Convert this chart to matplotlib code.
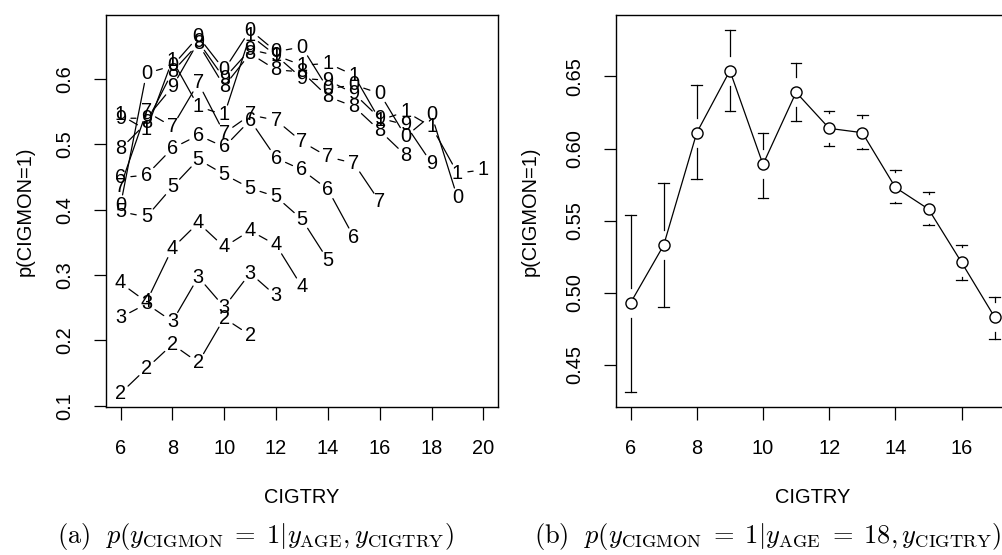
import matplotlib
matplotlib.use("Agg")
import matplotlib.pyplot as plt

plt.rcParams['font.family'] = ['Liberation Sans', 'DejaVu Sans']
plt.rcParams['mathtext.fontset'] = 'cm'

# --- data: left panel, p(CIGMON=1) per AGE, x = CIGTRY from 6 upward ---
cigtry_start = 6
age_labels = ["2", "3", "4", "5", "6", "7", "8", "9", "0", "1"]
p_age12 = [0.119, 0.157, 0.194, 0.166, 0.234, 0.208]
p_age13 = [0.235, 0.256, 0.229, 0.297, 0.251, 0.303, 0.268]
p_age14 = [0.288, 0.259, 0.341, 0.380, 0.343, 0.368, 0.346, 0.282]
p_age15 = [0.397, 0.389, 0.435, 0.477, 0.454, 0.433, 0.420, 0.385, 0.323]
p_age16 = [0.449, 0.453, 0.494, 0.514, 0.496, 0.537, 0.479, 0.461, 0.431, 0.358]
p_age17 = [0.436, 0.550, 0.527, 0.594, 0.517, 0.545, 0.537, 0.504, 0.481, 0.471, 0.412]
p_age18 = [0.493, 0.533, 0.611, 0.654, 0.589, 0.639, 0.614, 0.611, 0.573, 0.558, 0.521, 0.483]
p_age19 = [0.540, 0.540, 0.588, 0.657, 0.601, 0.645, 0.636, 0.601, 0.598, 0.578, 0.540, 0.530, 0.471]
p_age20 = [0.407, 0.609, 0.620, 0.665, 0.614, 0.675, 0.642, 0.649, 0.585, 0.591, 0.578, 0.512, 0.545, 0.418]
p_age21 = [0.545, 0.522, 0.629, 0.558, 0.545, 0.667, 0.636, 0.621, 0.624, 0.606, 0.537, 0.550, 0.527, 0.456, 0.461]
curves = [p_age12, p_age13, p_age14, p_age15, p_age16,
          p_age17, p_age18, p_age19, p_age20, p_age21]

# --- data: right panel, AGE = 18 with intervals ---
cigtry18 = [6, 7, 8, 9, 10, 11, 12, 13, 14, 15, 16, 17]
p18 = [0.493, 0.533, 0.611, 0.654, 0.589, 0.639, 0.614, 0.611, 0.573, 0.558, 0.521, 0.483]
p18_lo = [0.431, 0.490, 0.579, 0.626, 0.566, 0.619, 0.602, 0.600, 0.562, 0.547, 0.509, 0.468]
p18_hi = [0.554, 0.576, 0.644, 0.682, 0.611, 0.659, 0.626, 0.623, 0.585, 0.570, 0.533, 0.497]

FS = 14.4
W, H = 1003, 555
fig = plt.figure(figsize=(W / 100, H / 100), dpi=100)
ax1 = fig.add_axes([106 / W, 1 - 407.3 / H, 392 / W, 392.3 / H])
ax2 = fig.add_axes([616 / W, 1 - 407.3 / H, 393.3 / W, 392.3 / H])

# left: interaction plot, digits as points, lines with gaps (R type="b")
for lab, vals in zip(age_labels, curves):
    xs = list(range(cigtry_start, cigtry_start + len(vals)))
    for x, y in zip(xs, vals):
        ax1.text(x, y, lab, ha='center', va='center', fontsize=FS)
    for i in range(len(vals) - 1):
        ax1.annotate('', xy=(xs[i + 1], vals[i + 1]), xytext=(xs[i], vals[i]),
                     arrowprops=dict(arrowstyle='-', lw=0.9, color='black',
                                     shrinkA=7.5, shrinkB=7.5))
ax1.set_xlim(5.44, 20.56)
ax1.set_ylim(0.0976, 0.698)
ax1.set_xticks(range(6, 21, 2))
ax1.set_yticks([0.1, 0.2, 0.3, 0.4, 0.5, 0.6])
ax1.set_yticklabels(["0.1", "0.2", "0.3", "0.4", "0.5", "0.6"])

# right: points + CIs with gap around the point
gap = 0.0104
cap = 0.16
ax2.plot(cigtry18, p18, color='black', lw=0.9, marker='o', ms=8,
         mfc='white', mec='black', mew=1.0, zorder=3)
for x, y, lo, hi in zip(cigtry18, p18, p18_lo, p18_hi):
    ax2.plot([x, x], [y + gap, hi], color='black', lw=0.9)
    ax2.plot([x - cap, x + cap], [hi, hi], color='black', lw=0.9)
    ax2.plot([x, x], [y - gap, lo], color='black', lw=0.9)
    ax2.plot([x - cap, x + cap], [lo, lo], color='black', lw=0.9)
ax2.set_xlim(5.56, 17.44)
ax2.set_ylim(0.4206, 0.6926)
ax2.set_xticks(range(6, 17, 2))
ax2.set_yticks([0.45, 0.50, 0.55, 0.60, 0.65])
ax2.set_yticklabels(["0.45", "0.50", "0.55", "0.60", "0.65"])

for ax in (ax1, ax2):
    for s in ax.spines.values():
        s.set_linewidth(1.0)
    ax.tick_params(direction='out', length=9, width=0.9, pad=14, labelsize=FS)
    ax.tick_params(axis='y', labelrotation=90)
    for t in ax.get_yticklabels():
        t.set_va('center')
    ax.set_xlabel("CIGTRY", fontsize=FS, va='center')
    ax.set_ylabel("p(CIGMON=1)", fontsize=FS, va='center')

ax1.xaxis.set_label_coords(0.5, -89.7 / 392.3)
ax2.xaxis.set_label_coords(0.5, -89.7 / 392.3)
ax1.yaxis.set_label_coords(-81 / 392, 0.5)
ax2.yaxis.set_label_coords(-86 / 393.3, 0.5)

fig.text(255 / W, 1 - 537 / H,
         r"$\mathrm{(a)}\ \ p(y_{\mathrm{CIGMON}}\;=\;1|y_{\mathrm{AGE}}, y_{\mathrm{CIGTRY}})$",
         ha='center', va='center', fontsize=19)
fig.text(768 / W, 1 - 537 / H,
         r"$\mathrm{(b)}\ \ p(y_{\mathrm{CIGMON}}\;=\;1|y_{\mathrm{AGE}}\;=\;18, y_{\mathrm{CIGTRY}})$",
         ha='center', va='center', fontsize=19)

fig.savefig("out.png", dpi=100)
